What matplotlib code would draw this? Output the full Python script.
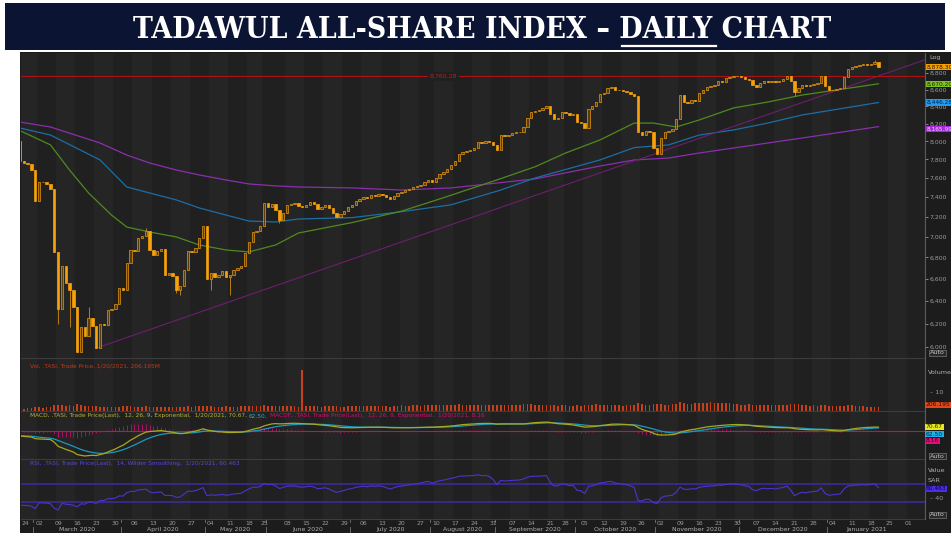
import numpy as np
import matplotlib.pyplot as plt
from matplotlib.patches import Rectangle
from matplotlib.transforms import blended_transform_factory as blend

W, H = 951, 533

# Tadawul trading calendar: Sun-Thu week, Eid / National Day closures
holidays = ['2020-05-24', '2020-05-25', '2020-05-26', '2020-05-27', '2020-05-28',
            '2020-07-30', '2020-08-02', '2020-08-03', '2020-08-04', '2020-08-05',
            '2020-08-06', '2020-09-23']
days = np.arange('2020-02-23', '2021-02-15', dtype='datetime64[D]')
tdays = days[np.is_busday(days, weekmask='Sun Mon Tue Wed Thu', holidays=holidays)]

# daily closes, 23 Feb 2020 .. 20 Jan 2021
close = [
    8000, 7780, 7760, 7745, 7690, 7360, 7560, 7555, 7540, 7480,
    6850, 6330, 6720, 6560, 6500, 6345, 5960, 6170, 6090, 6250,
    6175, 5995, 6200, 6190, 6320, 6330, 6370, 6515, 6500, 6750,
    6870, 6860, 6990, 7010, 7060, 6875, 6820, 6860, 6880, 6640,
    6650, 6630, 6500, 6530, 6680, 6860, 6850, 6890, 6990, 7110,
    6600, 6650, 6620, 6640, 6670, 6620, 6640, 6680, 6700, 6720,
    6840, 6950, 7050, 7060, 7110, 7340, 7300, 7330, 7270, 7170,
    7240, 7320, 7330, 7340, 7310, 7300, 7320, 7350, 7330, 7280,
    7300, 7320, 7290, 7240, 7200, 7230, 7260, 7300, 7320, 7360,
    7380, 7400, 7390, 7420, 7410, 7430, 7420, 7400, 7380, 7410,
    7440, 7450, 7470, 7480, 7500, 7510, 7530, 7560, 7580, 7560,
    7600, 7640, 7660, 7700, 7740, 7780, 7860, 7880, 7890, 7900,
    7920, 7990, 7980, 8000, 7990, 7960, 7900, 8070, 8060, 8070,
    8090, 8100, 8110, 8160, 8260, 8340, 8350, 8360, 8380, 8400,
    8310, 8250, 8260, 8330, 8320, 8300, 8310, 8220, 8210, 8150,
    8370, 8400, 8450, 8550, 8560, 8620, 8630, 8600, 8590, 8580,
    8570, 8550, 8520, 8100, 8070, 8120, 8110, 7920, 7860, 8040,
    8100, 8120, 8140, 8250, 8540, 8450, 8440, 8480, 8470, 8560,
    8600, 8630, 8640, 8650, 8700, 8690, 8740, 8750, 8770, 8760,
    8750, 8730, 8720, 8650, 8630, 8680, 8700, 8690, 8700, 8690,
    8710, 8730, 8760, 8700, 8570, 8620, 8650, 8640, 8660, 8670,
    8680, 8760, 8640, 8590, 8600, 8610, 8620, 8750, 8850, 8880,
    8890, 8900, 8910, 8905, 8920, 8940, 8878.30,
]
first_open = 8050
wick_hi = {19: 6345, 34: 7086, 69: 7200, 225: 8960}
wick_lo = {11: 6200, 14: 6170, 42: 6470, 43: 6450, 51: 6500, 56: 6450, 69: 7137, 204: 8520}

# volume, millions of shares
volume = [
    130, 150, 120, 140, 170, 230, 210, 190, 200, 220,
    330, 360, 340, 300, 310, 290, 370, 350, 300, 280,
    260, 280, 250, 230, 240, 220, 250, 230, 260, 280,
    270, 240, 250, 230, 260, 240, 220, 230, 250, 240,
    220, 210, 240, 230, 250, 270, 240, 260, 280, 300,
    290, 260, 240, 230, 220, 260, 240, 230, 250, 270,
    280, 300, 290, 270, 260, 330, 300, 290, 280, 270,
    260, 280, 270, 260, 250, 2280, 300, 290, 280, 260,
    250, 270, 290, 280, 260, 250, 240, 260, 280, 290,
    300, 290, 280, 270, 290, 300, 280, 260, 250, 270,
    290, 310, 300, 290, 310, 320, 300, 310, 330, 320,
    340, 350, 330, 360, 350, 340, 370, 350, 340, 330,
    320, 360, 340, 330, 320, 310, 330, 350, 340, 330,
    320, 340, 350, 370, 390, 380, 360, 350, 340, 330,
    320, 310, 300, 320, 310, 300, 290, 310, 300, 320,
    340, 350, 370, 360, 350, 340, 330, 320, 310, 300,
    320, 340, 360, 420, 380, 360, 350, 400, 390, 370,
    360, 350, 370, 390, 480, 420, 400, 410, 430, 450,
    470, 440, 500, 460, 430, 450, 420, 440, 410, 390,
    360, 340, 380, 360, 340, 330, 350, 340, 360, 330,
    320, 340, 360, 380, 400, 370, 340, 320, 300, 310,
    300, 320, 340, 300, 280, 260, 270, 300, 320, 310,
    290, 280, 270, 250, 240, 230, 206.195,
]

# moving averages (day index, level)
ma50_i = [1, 9, 14, 19, 25, 29, 35, 42, 48, 55, 61, 68, 74, 88, 101, 111, 126, 136,
          144, 153, 162, 167, 173, 179, 188, 197, 206, 226]
ma50 = [8120, 7960, 7685, 7442, 7216, 7096, 7047, 6998, 6920, 6872, 6853, 6920, 7037,
        7140, 7255, 7380, 7579, 7720, 7870, 8015, 8207, 8207, 8162, 8242, 8382, 8452,
        8535, 8670.20]
ma100_i = [1, 9, 22, 29, 35, 42, 48, 55, 61, 68, 74, 88, 101, 114, 127, 136, 153, 162,
           171, 179, 188, 197, 206, 226]
ma100 = [8150, 8071, 7794, 7505, 7442, 7370, 7288, 7216, 7156, 7146, 7176, 7190, 7250,
         7320, 7473, 7600, 7794, 7930, 7960, 8070, 8128, 8207, 8300, 8446.28]
ma200_i = [1, 9, 22, 29, 35, 42, 48, 55, 61, 68, 74, 88, 101, 114, 136, 153, 162, 171,
           179, 188, 197, 206, 226]
ma200 = [8219, 8162, 7981, 7848, 7761, 7685, 7632, 7579, 7537, 7516, 7505, 7495, 7473,
         7495, 7590, 7728, 7794, 7815, 7870, 7925, 7981, 8037, 8165.99]

trend_i = [21, 238]
trend_p = [5990, 8963]
resistance = 8760.28

bg = '#202020'
band = '#252525'
grey = '#9a9a9a'


def frame(x0, y0, x1, y1):
    return [x0 / W, 1 - y1 / H, (x1 - x0) / W, (y1 - y0) / H]


def fy(y):
    return 1 - y / H


fig = plt.figure(figsize=(W / 100, H / 100), dpi=100)
fig.patch.set_facecolor('white')
renderer = fig.canvas.get_renderer()

# title banner
fig.add_artist(Rectangle((5 / W, fy(50)), 940 / W, 47 / H, transform=fig.transFigure,
                         facecolor='#0b1433', edgecolor='none'))
fig.text(482 / W, fy(29), 'TADAWUL ALL-SHARE INDEX \u2013 DAILY CHART', color='white',
         family='DejaVu Serif', fontstretch='condensed', fontweight='bold', fontsize=21.5,
         ha='center', va='center')
fig.add_artist(plt.Line2D([622 / W, 716 / W], [fy(46), fy(46)], color='white', lw=1.6))

# chart background (right scale + date strip)
fig.add_artist(Rectangle((20 / W, 0), 931 / W, fy(52), transform=fig.transFigure,
                         facecolor='#1c1c1c', edgecolor='none', zorder=0))

ax_p = fig.add_axes(frame(21, 53, 925, 358))
ax_v = fig.add_axes(frame(21, 358, 925, 411), sharex=ax_p)
ax_m = fig.add_axes(frame(21, 411, 925, 459), sharex=ax_p)
ax_r = fig.add_axes(frame(21, 459, 925, 519), sharex=ax_p)
axes = [ax_p, ax_v, ax_m, ax_r]

x = np.arange(len(close))
c = np.array(close, dtype=float)
o = np.r_[first_open, c[:-1]]

# weekly ticks (Mondays) mapped to trading-day index
mondays = np.arange('2020-02-24', '2021-02-02', 7, dtype='datetime64[D]')
mondays = mondays[~np.isin(mondays, np.array(['2020-06-01', '2020-08-03'], dtype='datetime64[D]'))]
tick_pos = np.searchsorted(tdays, mondays)
tick_lab = [str(d)[8:10] for d in mondays]

for ax in axes:
    ax.set_facecolor(bg)
    for k in range(0, len(tick_pos) - 1, 2):
        ax.axvspan(tick_pos[k] - 0.5, tick_pos[k + 1] - 0.5, color=band, lw=0, zorder=0)
    for s in ax.spines.values():
        s.set_visible(False)
    ax.tick_params(axis='x', bottom=False, labelbottom=False)
    ax.set_xlim(1.28, 238.2)

# ---- price panel
hi = np.maximum(o, c)
lo = np.minimum(o, c)
for k, v in wick_hi.items():
    hi[k] = v
for k, v in wick_lo.items():
    lo[k] = v
up = c >= o
ax_p.set_yscale('log')
ax_p.vlines(x, lo, hi, color='#d08c12', lw=0.6, zorder=3)
ax_p.bar(x[up], (c - o)[up], bottom=o[up], width=0.62, facecolor='#5a3d0e',
         edgecolor='#e8980e', lw=0.5, zorder=4)
ax_p.bar(x[~up], (o - c)[~up], bottom=c[~up], width=0.62, facecolor='#f7a20a',
         edgecolor='#f7a20a', lw=0.5, zorder=4)

ax_p.plot(ma200_i, ma200, color='#8a2fae', lw=0.9, zorder=2)
ax_p.plot(ma100_i, ma100, color='#1c6ea6', lw=0.9, zorder=2)
ax_p.plot(ma50_i, ma50, color='#4f8a1e', lw=0.9, zorder=2)
ax_p.plot(trend_i, trend_p, color='#6c1f6c', lw=0.8, zorder=2)
ax_p.axhline(resistance, color='#b01212', lw=0.8, zorder=2)
ax_p.text(112, resistance, f'{resistance:,.2f}', color='#c41a1a', fontsize=4.5,
          ha='center', va='center', zorder=3,
          bbox=dict(facecolor=bg, edgecolor='none', pad=1.2))

ax_p.set_ylim(5908, 9052)
ax_p.yaxis.tick_right()
ax_p.yaxis.set_minor_locator(plt.NullLocator())
yt = np.arange(6000, 8900, 200)
ax_p.set_yticks(yt)
ax_p.set_yticklabels([f'{v:,}' for v in yt])
ax_p.tick_params(axis='y', colors=grey, labelsize=4.4, length=2.5, width=0.6, pad=1)

tr = blend(ax_p.transAxes, ax_p.transData)
for val, fc, tc in [(c[-1], '#f5a000', '#2a1a00'), (ma50[-1], '#7dc21e', '#1a2a00'),
                    (ma100[-1], '#1f9cf0', '#0a1a40'), (ma200[-1], '#a52ad8', '#f0d0ff')]:
    ax_p.text(1.0015, val, f'{val:,.2f}', transform=tr, color=tc, fontsize=4.2,
              ha='left', va='top' if val == ma200[-1] else 'center', clip_on=False, zorder=6,
              bbox=dict(facecolor=fc, edgecolor='none', pad=0.5))
fig.text(929 / W, fy(57), 'Log', color='#b0b0b0', fontsize=4.6, va='center')
fig.text(930 / W, fy(353), 'Auto', color='#c0c0c0', fontsize=4.6, va='center',
         bbox=dict(facecolor='#2a2a2a', edgecolor='#777777', lw=0.5, pad=0.6))

# ---- volume panel
ax_v.bar(x, volume, width=0.42, color='#c8401a', lw=0, zorder=3)
ax_v.set_ylim(0, 2950)
ax_v.set_yticks([])
fig.text(30 / W, fy(366), 'Vol, .TASI, Trade Price, 1/20/2021, 206.195M', color='#c03a1a',
         fontsize=4.2, va='center')
fig.text(928 / W, fy(373), 'Volume', color='#b0b0b0', fontsize=4.6, va='center')
fig.text(930 / W, fy(393), '\u2013 10', color=grey, fontsize=4.6, va='center')
fig.text(926 / W, fy(405), '206.195', color='#2a0a00', fontsize=4.3, va='center',
         bbox=dict(facecolor='#e0481a', edgecolor='none', pad=0.6))


# ---- MACD panel (12, 26, 9 exponential) from the closes
def ema(vals, span, seed):
    a = 2 / (span + 1)
    out = []
    e = seed
    for v in vals:
        e = e + a * (v - e)
        out.append(e)
    return np.array(out)


macd = ema(c, 12, c[0] - 40) - ema(c, 26, c[0] + 60)
signal = ema(macd, 9, -90)
hist = macd - signal
k = -macd.min() / 25
ax_m.set_ylim(-28 * k, 20 * k)
ax_m.axhline(0, color='#c0106a', lw=0.8, zorder=2)
ax_m.vlines(x, 0, hist, color='#c0106a', lw=0.6, zorder=2)
ax_m.plot(x, signal, color='#1a9ac0', lw=0.9, zorder=3)
ax_m.plot(x, macd, color='#a8a820', lw=0.9, zorder=4)
ax_m.set_yticks([])


def chain(x0, y0, parts, size=4.2):
    # header texts placed one after another
    xp = x0
    for txt, col in parts:
        t = fig.text(xp / W, fy(y0), txt, color=col, fontsize=size, va='center')
        xp = t.get_window_extent(renderer).x1 + 2


chain(30, 416, [('MACD, .TASI, Trade Price(Last),  12, 26, 9, Exponential,  1/20/2021, 70.67,', '#b4b43a'),
                ('62.50,', '#2aa8d0'),
                ('MACDF, .TASI, Trade Price(Last),  12, 26, 9, Exponential,  1/20/2021, 8.16', '#d0106e')])
for yy, txt, fc, tc in [(427, '70.67', '#e8e820', '#2a2a00'), (434, '62.50', '#20b0e8', '#002030'),
                        (441, '8.16', '#e0107a', '#300010')]:
    fig.text(926 / W, fy(yy), txt, color=tc, fontsize=4.3, va='center',
             bbox=dict(facecolor=fc, edgecolor='none', pad=0.5))
fig.text(930 / W, fy(456), 'Auto', color='#c0c0c0', fontsize=4.6, va='center',
         bbox=dict(facecolor='#2a2a2a', edgecolor='#777777', lw=0.5, pad=0.6))

# ---- RSI panel (14, Wilder) from the closes
ag, al = 20.0, 45.0
rsi = []
for d in np.diff(np.r_[first_open, c]):
    ag = (ag * 13 + max(d, 0)) / 14
    al = (al * 13 + max(-d, 0)) / 14
    rsi.append(100 - 100 / (1 + ag / al))
ax_r.set_ylim(-7.8, 125.6)
ax_r.axhline(70, color='#3a2a9e', lw=1.2, zorder=2)
ax_r.axhline(30, color='#3a2a9e', lw=1.2, zorder=2)
ax_r.plot(x, rsi, color='#4a34d0', lw=0.8, zorder=3)
ax_r.set_yticks([])
chain(30, 464, [('RSI, .TASI, Trade Price(Last),  14, Wilder Smoothing,  1/20/2021, 60.463', '#5a46e0')])
fig.text(928 / W, fy(470), 'Value', color='#b0b0b0', fontsize=4.6, va='center')
fig.text(928 / W, fy(481), 'SAR', color='#b0b0b0', fontsize=4.6, va='center')
fig.text(926 / W, fy(489), '60.463', color='#0a0040', fontsize=4.3, va='center',
         bbox=dict(facecolor='#4a30e0', edgecolor='none', pad=0.5))
fig.text(930 / W, fy(498), '\u2013 40', color=grey, fontsize=4.6, va='center')
fig.text(930 / W, fy(515), 'Auto', color='#c0c0c0', fontsize=4.6, va='center',
         bbox=dict(facecolor='#2a2a2a', edgecolor='#777777', lw=0.5, pad=0.6))

# panel separators and right scale line
for yy in [358, 411, 459, 519]:
    fig.add_artist(plt.Line2D([21 / W, 925 / W], [fy(yy), fy(yy)], color='#3c3c3c', lw=0.8))
fig.add_artist(plt.Line2D([925 / W, 925 / W], [fy(53), fy(519)], color='#5c5c5c', lw=0.8))

# date axis
dtr = blend(ax_r.transData, fig.transFigure)
for p, lab in zip(tick_pos, tick_lab):
    ax_r.text(max(p, 2.4), fy(523.5), lab, transform=dtr, color=grey, fontsize=4.4,
              ha='center', va='center', clip_on=False)
month_start = np.arange('2020-03', '2021-03', dtype='datetime64[M]').astype('datetime64[D]')
m_pos = np.searchsorted(tdays, month_start)
m_names = ['March 2020', 'April 2020', 'May 2020', 'June 2020', 'July 2020', 'August 2020',
           'September 2020', 'October 2020', 'November 2020', 'December 2020', 'January 2021']
for p in m_pos[:-1]:
    ax_r.plot([p - 0.5, p - 0.5], [fy(519), fy(522)], transform=dtr, color='#777777',
              lw=0.6, clip_on=False)
    ax_r.plot([p - 0.5, p - 0.5], [fy(527), fy(533)], transform=dtr, color='#777777',
              lw=0.6, clip_on=False)
for a, b, name in zip(m_pos[:-1], m_pos[1:], m_names):
    ax_r.text((a + b) / 2 - 0.5, fy(529.8), name, transform=dtr, color='#b0b0b0',
              fontsize=4.4, ha='center', va='center', clip_on=False)

fig.savefig('out.png', dpi=100, facecolor=fig.get_facecolor())
